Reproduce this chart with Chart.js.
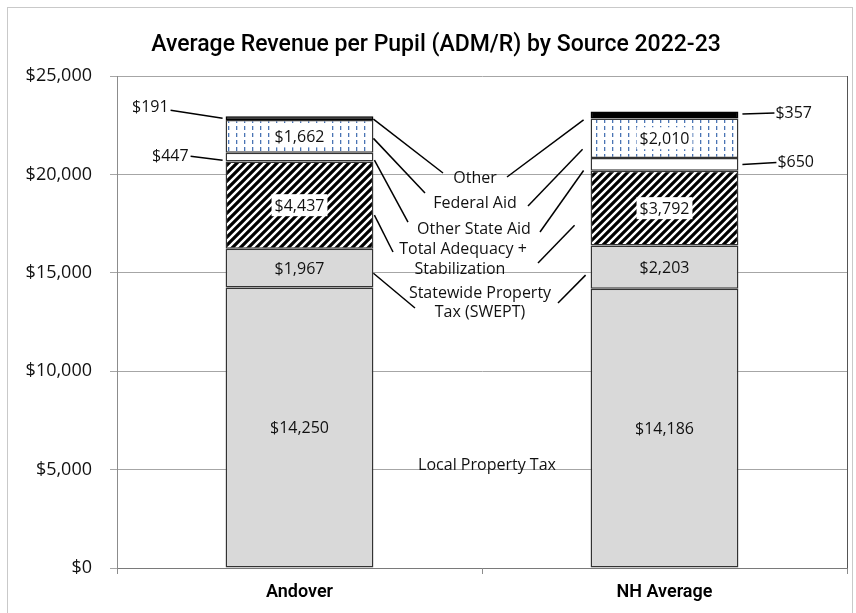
<!DOCTYPE html>
<html>
<head>
<meta charset="utf-8">
<script src="https://cdn.jsdelivr.net/npm/chart.js@4.4.1/dist/chart.umd.min.js"></script>
<style>
  html, body { margin: 0; padding: 0; background: #fff; }
  #wrap { width: 856px; height: 613px; position: relative; }
</style>
</head>
<body>
<div id="wrap"><canvas id="chart"></canvas></div>
<script>
// ================== Data ==================
const categories = ["Andover", "NH Average"];
const sourceNames = ["Local Property Tax", "Statewide Property Tax (SWEPT)", "Total Adequacy + Stabilization", "Other State Aid", "Federal Aid", "Other"];
const localTax = [14250, 14186];
const swept = [1967, 2203];
const adequacy = [4437, 3792];
const otherStateAid = [447, 650];
const federalAid = [1662, 2010];
const otherRevenue = [191, 357];
const yTicks = [0, 5000, 10000, 15000, 20000, 25000];
const chartTitle = "Average Revenue per Pupil (ADM/R) by Source 2022-23";

// middle captions, one per source (index = dataset index)
const captions = [["Local Property Tax"], ["Statewide Property", "Tax (SWEPT)"], ["Total Adequacy +", "Stabilization"], ["Other State Aid"], ["Federal Aid"], ["Other"]];

// ================== Layout (pixels / axis units for placement) ==================
const FONT = "'Open Sans', sans-serif";
const captionPos = [
  { dx: [5], v: 5233, lh: 20 },
  { dx: [-2, -2], v: 13973, lh: 19 },
  { dx: [-19, -22], v: 16209, lh: 20 },
  { dx: [-8], v: 17225, lh: 20 },
  { dx: [-7], v: 18546, lh: 20 },
  { dx: [-7], v: 19817, lh: 20 },
];
// leader lines from each bar to the middle captions
const leaders = [
  // Andover -> from right edge
  { cat: 0, seg: 5, gap: 0, dy: 1, ex: -39, ev: 20070 },
  { cat: 0, seg: 4, gap: 0, dy: 2, ex: -57, ev: 19054 },
  { cat: 0, seg: 3, gap: 1, dy: 3, ex: -74, ev: 17580 },
  { cat: 0, seg: 2, gap: 1, dy: 10, ex: -89, ev: 16056 },
  { cat: 0, seg: 1, gap: 0, dy: 5, ex: -67, ev: 13211 },
  // NH Average -> from left edge
  { cat: 1, seg: 5, gap: 7, dy: 5, ex: 25, ev: 19867 },
  { cat: 1, seg: 4, gap: 8, dy: 11, ex: 46, ev: 18394 },
  { cat: 1, seg: 3, gap: 7, dy: 6, ex: 58, ev: 17072 },
  { cat: 1, seg: 2, gap: 16, dy: 17, ex: 56, ev: 15497 },
  { cat: 1, seg: 1, gap: 5, dy: 8, ex: 76, ev: 13465 },
];
// small segments labelled outside the bar
const outside = [
  { cat: 0, seg: 5, side: "left", x1: 55, y1: -8, x2: 3, y2: 0, tx: 57, ty: -11 },
  { cat: 0, seg: 3, side: "left", x1: 35, y1: -1, x2: 3, y2: 3, tx: 37, ty: -1 },
  { cat: 1, seg: 5, side: "right", x1: 4, y1: -1, x2: 36, y2: -2, tx: 37, ty: -2 },
  { cat: 1, seg: 3, side: "right", x1: 4, y1: 0, x2: 38, y2: -2, tx: 39, ty: -2 },
];

function money(v) {
  return "$" + Number(v).toLocaleString("en-US");
}

// ================== Patterns ==================
function stripePattern() {
  const c = document.createElement("canvas");
  c.width = 8; c.height = 8;
  const g = c.getContext("2d");
  g.fillStyle = "#fff";
  g.fillRect(0, 0, 8, 8);
  g.strokeStyle = "#000";
  g.lineWidth = 3.2;
  g.beginPath();
  g.moveTo(-2, 10); g.lineTo(10, -2);
  g.moveTo(-6, 6); g.lineTo(6, -6);
  g.moveTo(2, 14); g.lineTo(14, 2);
  g.stroke();
  return g.createPattern(c, "repeat");
}

function dashPattern() {
  const c = document.createElement("canvas");
  c.width = 8; c.height = 7;
  const g = c.getContext("2d");
  g.fillStyle = "#fff";
  g.fillRect(0, 0, 8, 7);
  g.fillStyle = "#4a74b4";
  g.fillRect(4, 0, 1.3, 4);
  return g.createPattern(c, "repeat");
}

// ================== Plugins ==================
const framePlugin = {
  id: "frame",
  beforeDraw(chart) {
    const { ctx } = chart;
    ctx.save();
    ctx.strokeStyle = "#c9c9c9";
    ctx.lineWidth = 1;
    ctx.strokeRect(7.5, 7.5, 845, 640);
    ctx.fillStyle = "#000";
    ctx.font = "500 23px Roboto, sans-serif";
    ctx.textAlign = "center";
    ctx.textBaseline = "middle";
    ctx.fillText(chartTitle, 436, 45);
    ctx.restore();
  },
  afterDraw(chart) {
    const { ctx, chartArea } = chart;
    ctx.save();
    ctx.strokeStyle = "#555";
    ctx.lineWidth = 1;
    ctx.beginPath();
    ctx.moveTo(Math.round(chartArea.right) + 0.5, chartArea.top);
    ctx.lineTo(Math.round(chartArea.right) + 0.5, chartArea.bottom);
    ctx.stroke();
    ctx.restore();
  },
};

const labelPlugin = {
  id: "labels",
  afterDatasetsDraw(chart) {
    const { ctx, scales: { x, y } } = chart;
    const bar = (cat, seg) => {
      const el = chart.getDatasetMeta(seg).data[cat];
      return { left: el.x - el.width / 2, right: el.x + el.width / 2, cx: el.x, cy: (el.y + el.base) / 2 };
    };
    ctx.save();
    ctx.font = "16px " + FONT;
    ctx.textBaseline = "middle";

    // values inside the bars
    [0, 1, 2, 4].forEach((seg) => {
      chart.data.datasets[seg].data.forEach((v, cat) => {
        const b = bar(cat, seg);
        const txt = money(v);
        const w = ctx.measureText(txt).width;
        if (seg === 2 || seg === 4) {
          ctx.fillStyle = "#fff";
          ctx.fillRect(b.cx - w / 2 - 3, b.cy - 11, w + 6, 22);
        }
        ctx.fillStyle = "#111";
        ctx.textAlign = "center";
        ctx.fillText(txt, b.cx, b.cy + 1);
      });
    });

    // values outside the bars
    ctx.strokeStyle = "#000";
    ctx.lineWidth = 1.5;
    outside.forEach((o) => {
      const b = bar(o.cat, o.seg);
      const v = chart.data.datasets[o.seg].data[o.cat];
      const s = o.side === "left" ? -1 : 1;
      const edge = o.side === "left" ? b.left : b.right;
      ctx.beginPath();
      ctx.moveTo(edge + s * o.x1, b.cy + o.y1);
      ctx.lineTo(edge + s * o.x2, b.cy + o.y2);
      ctx.stroke();
      ctx.fillStyle = "#111";
      ctx.textAlign = o.side === "left" ? "right" : "left";
      ctx.fillText(money(v), edge + s * o.tx, b.cy + o.ty);
    });

    // captions in the middle
    const midX = (x.getPixelForValue(0) + x.getPixelForValue(1)) / 2;
    ctx.textAlign = "center";
    ctx.fillStyle = "#111";
    captions.forEach((lines, i) => {
      const p = captionPos[i];
      const top = y.getPixelForValue(p.v);
      lines.forEach((t, k) => ctx.fillText(t, midX + p.dx[k], top + k * p.lh));
    });

    // leader lines
    leaders.forEach((l) => {
      const b = bar(l.cat, l.seg);
      const sx = l.cat === 0 ? b.right + l.gap : b.left - l.gap;
      ctx.beginPath();
      ctx.moveTo(sx, b.cy + l.dy);
      ctx.lineTo(midX + l.ex, y.getPixelForValue(l.ev));
      ctx.stroke();
    });
    ctx.restore();
  },
};

// ================== Chart ==================
const fills = ["#d9d9d9", "#d9d9d9", stripePattern(), "#ffffff", dashPattern(), "#000000"];
const outlines = ["#333333", "#333333", "#333333", "#333333", "#333333", "#000000"];
const seriesValues = [localTax, swept, adequacy, otherStateAid, federalAid, otherRevenue];

new Chart(document.getElementById("chart"), {
  type: "bar",
  data: {
    labels: categories,
    datasets: seriesValues.map((vals, i) => ({
      label: sourceNames[i],
      data: vals,
      backgroundColor: fills[i],
      borderColor: outlines[i],
      borderWidth: 1.5,
      borderSkipped: false,
      categoryPercentage: 1,
      barPercentage: 0.405,
    })),
  },
  options: {
    responsive: true,
    maintainAspectRatio: false,
    animation: false,
    layout: { padding: { top: 76, right: 9, bottom: 0, left: 0 } },
    plugins: {
      legend: { display: false },
      title: { display: false },
      tooltip: { enabled: false },
    },
    scales: {
      x: {
        stacked: true,
        offset: true,
        afterFit: (s) => { s.height = 45; },
        grid: { offset: true, drawOnChartArea: false, color: "#8c8c8c", tickLength: 6 },
        border: { color: "#7a7a7a", width: 1 },
        ticks: { color: "#000", padding: 8, font: { family: "Roboto", size: 18, weight: "600" } },
      },
      y: {
        stacked: true,
        min: yTicks[0],
        max: yTicks[yTicks.length - 1],
        afterFit: (s) => { s.width = 117; },
        afterBuildTicks: (s) => { s.ticks = yTicks.map((v) => ({ value: v })); },
        grid: { color: "#a6a6a6", tickLength: 7 },
        border: { color: "#8c8c8c", width: 1 },
        ticks: { color: "#111", padding: 18, font: { family: "'Open Sans'", size: 18 }, callback: (v) => money(v) },
      },
    },
  },
  plugins: [framePlugin, labelPlugin],
});
</script>
</body>
</html>
